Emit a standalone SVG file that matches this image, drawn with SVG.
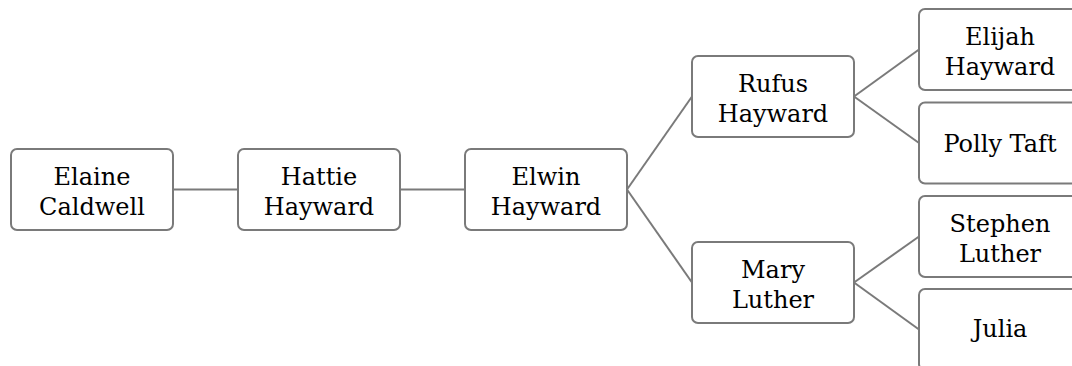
<svg xmlns="http://www.w3.org/2000/svg" width="1072" height="366" viewBox="0 0 1072 366">
<style>
.box{fill:#fff;stroke:#7a7a7a;stroke-width:2}
.lbl{font-family:"DejaVu Serif",serif;font-size:24px;fill:#000;text-anchor:middle}
.con{stroke:#7a7a7a;stroke-width:2;fill:none}
</style>
<rect width="1072" height="366" fill="#fff"/>
<g id="connectors">
<line class="con" x1="173" y1="189.5" x2="238" y2="189.5"/>
<line class="con" x1="400" y1="189.5" x2="465" y2="189.5"/>
<line class="con" x1="627" y1="189.5" x2="692" y2="96.5"/>
<line class="con" x1="627" y1="189.5" x2="692" y2="282.5"/>
<line class="con" x1="854" y1="96.5" x2="919" y2="49.5"/>
<line class="con" x1="854" y1="96.5" x2="919" y2="143"/>
<line class="con" x1="854" y1="282.5" x2="919" y2="236.5"/>
<line class="con" x1="854" y1="282.5" x2="919" y2="329.5"/>
</g>
<g id="elaine"><rect class="box" x="11" y="149" width="162" height="81" rx="6"/><text class="lbl" x="92" y="184.5">Elaine</text><text class="lbl" x="92" y="214.5">Caldwell</text></g>
<g id="hattie"><rect class="box" x="238" y="149" width="162" height="81" rx="6"/><text class="lbl" x="319" y="184.5">Hattie</text><text class="lbl" x="319" y="214.5">Hayward</text></g>
<g id="elwin"><rect class="box" x="465" y="149" width="162" height="81" rx="6"/><text class="lbl" x="546" y="184.5">Elwin</text><text class="lbl" x="546" y="214.5">Hayward</text></g>
<g id="rufus"><rect class="box" x="692" y="56" width="162" height="81" rx="6"/><text class="lbl" x="773" y="91.5">Rufus</text><text class="lbl" x="773" y="121.5">Hayward</text></g>
<g id="mary"><rect class="box" x="692" y="242" width="162" height="81" rx="6"/><text class="lbl" x="773" y="277.5">Mary</text><text class="lbl" x="773" y="307.5">Luther</text></g>
<g id="elijah"><rect class="box" x="919" y="9" width="162" height="81" rx="6"/><text class="lbl" x="1000" y="44.5">Elijah</text><text class="lbl" x="1000" y="74.5">Hayward</text></g>
<g id="polly"><rect class="box" x="919" y="102.5" width="162" height="81" rx="6"/><text class="lbl" x="1000" y="151.5">Polly Taft</text></g>
<g id="stephen"><rect class="box" x="919" y="196" width="162" height="81" rx="6"/><text class="lbl" x="1000" y="231.5">Stephen</text><text class="lbl" x="1000" y="261.5">Luther</text></g>
<g id="julia"><rect class="box" x="919" y="289" width="162" height="81" rx="6"/><text class="lbl" x="1000" y="337">Julia</text></g>
</svg>
